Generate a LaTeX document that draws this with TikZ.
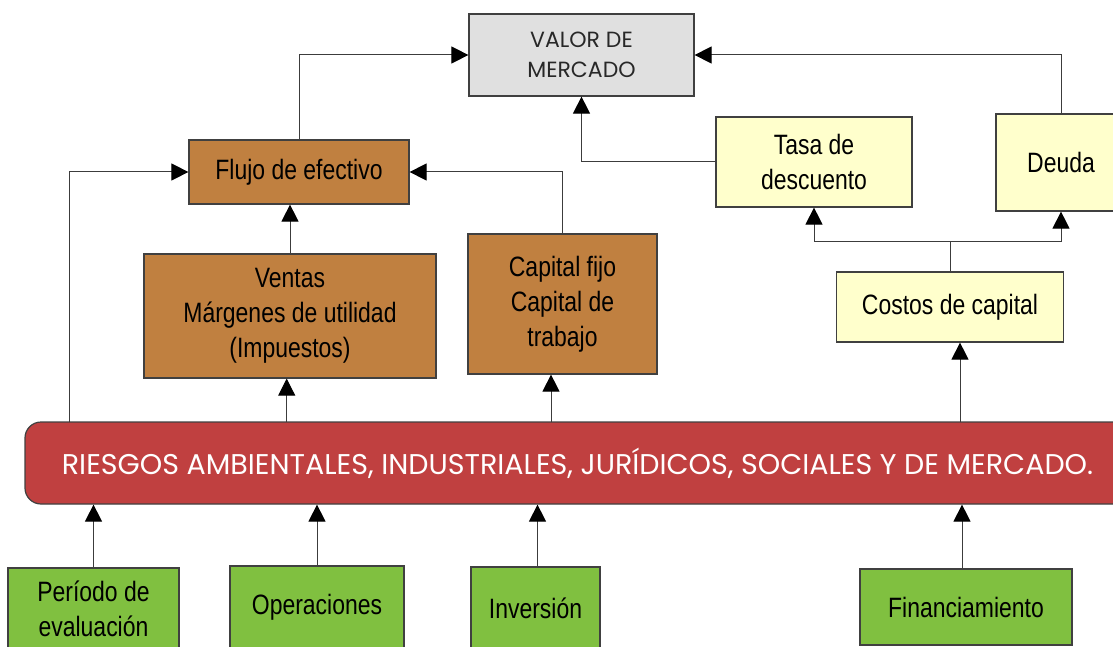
\documentclass[tikz,border=0pt]{standalone}
\usepackage{fontspec}
\setmainfont{Liberation Sans}
\newfontfamily\narrowf{Liberation Sans}[FakeStretch=0.82]
\newfontfamily\gothic{Poppins}
\usetikzlibrary{arrows.meta}
\definecolor{brownbox}{RGB}{192,128,64}
\definecolor{greenbox}{RGB}{128,192,64}
\definecolor{redbox}{RGB}{192,64,64}
\definecolor{yellowbox}{RGB}{255,255,204}
\definecolor{graybox}{RGB}{224,224,224}
\definecolor{boxline}{RGB}{64,64,64}
\definecolor{linegray}{RGB}{60,60,60}
\definecolor{valtext}{RGB}{40,40,40}
\begin{document}
\begin{tikzpicture}[x=1pt,y=-1pt,
  box/.style={draw=boxline, line width=1.2pt, inner sep=0pt, align=center,
    font=\narrowf\fontsize{28}{35}\selectfont, text=black},
  brownb/.style={box, fill=brownbox},
  greenb/.style={box, fill=greenbox},
  yellowb/.style={box, fill=yellowbox},
  arr/.style={draw=linegray, line width=1pt, -{Triangle[length=17pt,width=17pt,color=black]}},
  ln/.style={draw=linegray, line width=1pt}]
\useasboundingbox (0,0) rectangle (1113,647);

% nodes
\node[box, fill=graybox, minimum width=225pt, minimum height=82pt,
  font=\gothic\fontsize{22}{29.5}\selectfont, text=valtext] (valor) at (581.5,55) {VALOR DE\\MERCADO};
\node[brownb, minimum width=220pt, minimum height=64pt] (flujo) at (299,172) {Flujo de efectivo};
\node[yellowb, minimum width=196pt, minimum height=90pt] (tasa) at (814,162) {Tasa de\\descuento};
\node[yellowb, minimum width=130pt, minimum height=97pt] (deuda) at (1061,162.5) {Deuda};
\node[yellowb, minimum width=227pt, minimum height=70pt] (costos) at (950,307) {Costos de capital};
\node[brownb, minimum width=292pt, minimum height=124pt] (ventas) at (290,316) {Ventas\\Márgenes de utilidad\\(Impuestos)};
\node[brownb, minimum width=189pt, minimum height=140pt] (capital) at (562.5,304) {Capital fijo\\Capital de\\trabajo};
\node[box, fill=redbox, rounded corners=16pt, minimum width=1105pt, minimum height=82pt,
  font=\gothic, text=white] (risk) at (577.5,463)
  {\resizebox{1031pt}{!}{RIESGOS AMBIENTALES, INDUSTRIALES, JURÍDICOS, SOCIALES Y DE MERCADO.}};
\node[greenb, minimum width=171pt, minimum height=82pt] (periodo) at (93.5,609) {Período de\\evaluación};
\node[greenb, minimum width=174pt, minimum height=82pt] (oper) at (317,607) {Operaciones};
\node[greenb, minimum width=129pt, minimum height=82pt] (inv) at (535.5,608) {Inversión};
\node[greenb, minimum width=212pt, minimum height=76pt] (fin) at (966,607) {Financiamiento};

% coordinates on the risk bar
\coordinate (rA) at (69,422);
\coordinate (rB) at (286.7,422);
\coordinate (rC) at (551,422);
\coordinate (rD) at (960,422);
\coordinate (split) at (950,241);

% connectors
\draw[arr] (flujo.north) |- (valor.west);
\draw[arr] (rA) |- (flujo.west);
\draw[arr] (capital.north) |- (flujo.east);
\draw[arr] (ventas.north) -- (ventas.north |- flujo.south);
\draw[arr] (rB) -- (rB |- ventas.south);
\draw[arr] (rC) -- (rC |- capital.south);
\draw[arr] (tasa.west) -| (valor.south);
\draw[arr] (deuda.north) |- (valor.east);
\draw[ln] (costos.north) -- (split);
\draw[arr] (split) -| (tasa.south);
\draw[arr] (split) -| (deuda.south);
\draw[arr] (rD) -- (rD |- costos.south);
\draw[arr] (periodo.north) -- (periodo.north |- risk.south);
\draw[arr] (oper.north) -- (oper.north |- risk.south);
\draw[arr] ([xshift=2pt]inv.north) -- ([xshift=2pt]inv.north |- risk.south);
\draw[arr] ([xshift=-4pt]fin.north) -- ([xshift=-4pt]fin.north |- risk.south);
\end{tikzpicture}
\end{document}
